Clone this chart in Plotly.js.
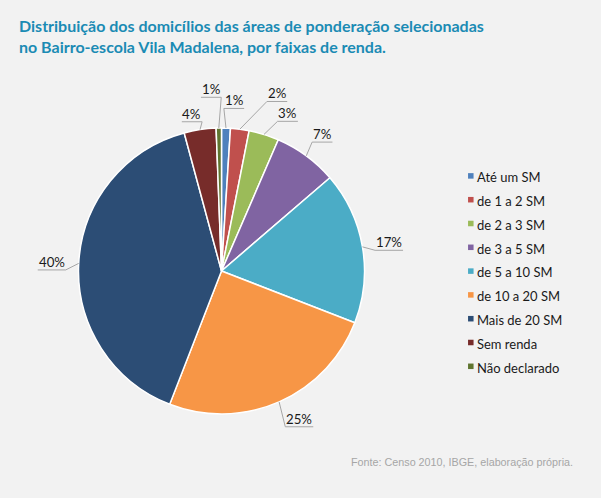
<!DOCTYPE html>
<html><head><meta charset="utf-8">
<script src="https://cdn.plot.ly/plotly-3.0.1.min.js"></script>
<style>html,body{margin:0;padding:0;background:#f2f2f2;}</style>
</head><body><div id="chart" style="width:601px;height:498px;"></div>
<script>
const categories = ["Até um SM","de 1 a 2 SM","de 2 a 3 SM","de 3 a 5 SM","de 5 a 10 SM","de 10 a 20 SM","Mais de 20 SM","Sem renda","Não declarado"];
const shares = [1.0, 2.1, 3.4, 7.2, 17.2, 25.0, 39.9, 3.6, 0.6];
const colors = ["#4F81BD","#C0504D","#9BBB59","#8064A2","#4BACC6","#F79646","#2C4D75","#772C2A","#5F7530"];
const titleLines = ["Distribuição dos domicílios das áreas de ponderação selecionadas", "no Bairro-escola Vila Madalena, por faixas de renda."];
const sourceText = "Fonte: Censo 2010, IBGE, elaboração própria.";

const W = 601, H = 498;
const cx = 221.5, cy = 271, R = 143;
const domain = {x: [(cx - R) / W, (cx + R) / W], y: [1 - (cy + R) / H, 1 - (cy - R) / H]};
const px = x => x / W, py = y => 1 - y / H;

// fit font sizes to the widths of the reference texts
const ctx = document.createElement('canvas').getContext('2d');
function fit(text, css, base, target, lo, hi) {
  ctx.font = css.replace('SIZE', base + 'px');
  const s = base * target / ctx.measureText(text).width;
  return Math.max(lo, Math.min(hi, s));
}
const titleSize = fit(titleLines[1], 'bold SIZE Lato', 15, 368, 13.5, 16.5);
const legendSize = fit("Não declarado", 'SIZE Lato', 13, 82.3, 12, 14.5);
const labelSize = fit("40%", 'SIZE Lato', 13, 26, 12, 14.5);
const sourceSize = fit(sourceText, 'SIZE "Liberation Sans"', 11, 222.3, 10, 12);
ctx.font = labelSize + 'px Lato';

const total = shares.reduce((a, b) => a + b, 0);
// label placement nudges (degrees, px)
const nudge = {0: {da: 2.4, dr: 1}, 1: {da: 10, dr: 16}, 2: {da: 5.5, dr: 1}, 5: {da: -4, dr: -3}, 7: {da: -2, dr: -10}, 8: {da: -2.2, dr: 12}};
let cum = 0;
const ann = [], shapes = [];
shares.forEach((v, i) => {
  const mid = (cum + v / 2) / total * 2 * Math.PI;
  cum += v;
  const n = nudge[i] || {da: 0, dr: 0};
  const ex = cx + R * Math.sin(mid), ey = cy - R * Math.cos(mid);
  const la = mid + n.da * Math.PI / 180, lr = R + 27 + n.dr;
  const lx = cx + lr * Math.sin(la), ly = cy - lr * Math.cos(la);
  const txt = Math.round(v / total * 100) + '%';
  const w = ctx.measureText(txt).width + 2;
  const uy = ly + 8;
  const left = lx - w / 2, right = lx + w / 2;
  const near = lx < ex ? right : left, far = lx < ex ? left : right;
  shapes.push({
    type: 'path', xref: 'paper', yref: 'paper',
    path: `M${px(ex)},${py(ey)} L${px(near)},${py(uy)} L${px(far)},${py(uy)}`,
    line: {color: '#a6a6a6', width: 1}
  });
  ann.push({
    x: px(lx), y: py(ly), xref: 'paper', yref: 'paper',
    xanchor: 'center', yanchor: 'middle', showarrow: false,
    text: txt,
    font: {family: 'Lato', size: labelSize, color: '#1a1a1a'}
  });
});
ann.push({
  x: px(575), xanchor: 'right', y: py(461.7), yanchor: 'middle',
  xref: 'paper', yref: 'paper', showarrow: false, text: sourceText,
  font: {family: 'Liberation Sans, Arial', size: sourceSize, color: '#a6a6a6'}
});

const data = [{
  type: 'pie',
  labels: categories.map(c => '<span style="font-size:' + legendSize.toFixed(2) + 'px">' + c + '</span>'),
  values: shares,
  sort: false, direction: 'clockwise', rotation: 0,
  textinfo: 'none',
  marker: {colors: colors, line: {color: '#ffffff', width: 1.5}},
  domain: domain
}];

const layout = {
  width: W, height: H,
  margin: {l: 0, r: 0, t: 0, b: 0},
  paper_bgcolor: '#f2f2f2', plot_bgcolor: '#f2f2f2',
  title: {
    text: titleLines.join('<br>'), xref: 'paper', yref: 'paper',
    x: px(19), xanchor: 'left', y: py(32), yanchor: 'top',
    font: {family: 'Lato', size: titleSize, weight: 'bold', color: '#1b8bb4'}
  },
  showlegend: true,
  legend: {
    x: px(437), xanchor: 'left', y: py(159), yanchor: 'top',
    font: {family: 'Lato', size: 16, color: '#1a1a1a'},
    bgcolor: 'rgba(0,0,0,0)', traceorder: 'normal'
  },
  shapes: shapes,
  annotations: ann
};

Plotly.newPlot('chart', data, layout, {staticPlot: true}).then(gd => {
  gd.querySelectorAll('.legend .legendpoints path').forEach(p => {
    p.setAttribute('transform', 'translate(33.8,0) scale(0.46)');
    p.style.strokeWidth = '0px';
  });
});
</script>
</body></html>
